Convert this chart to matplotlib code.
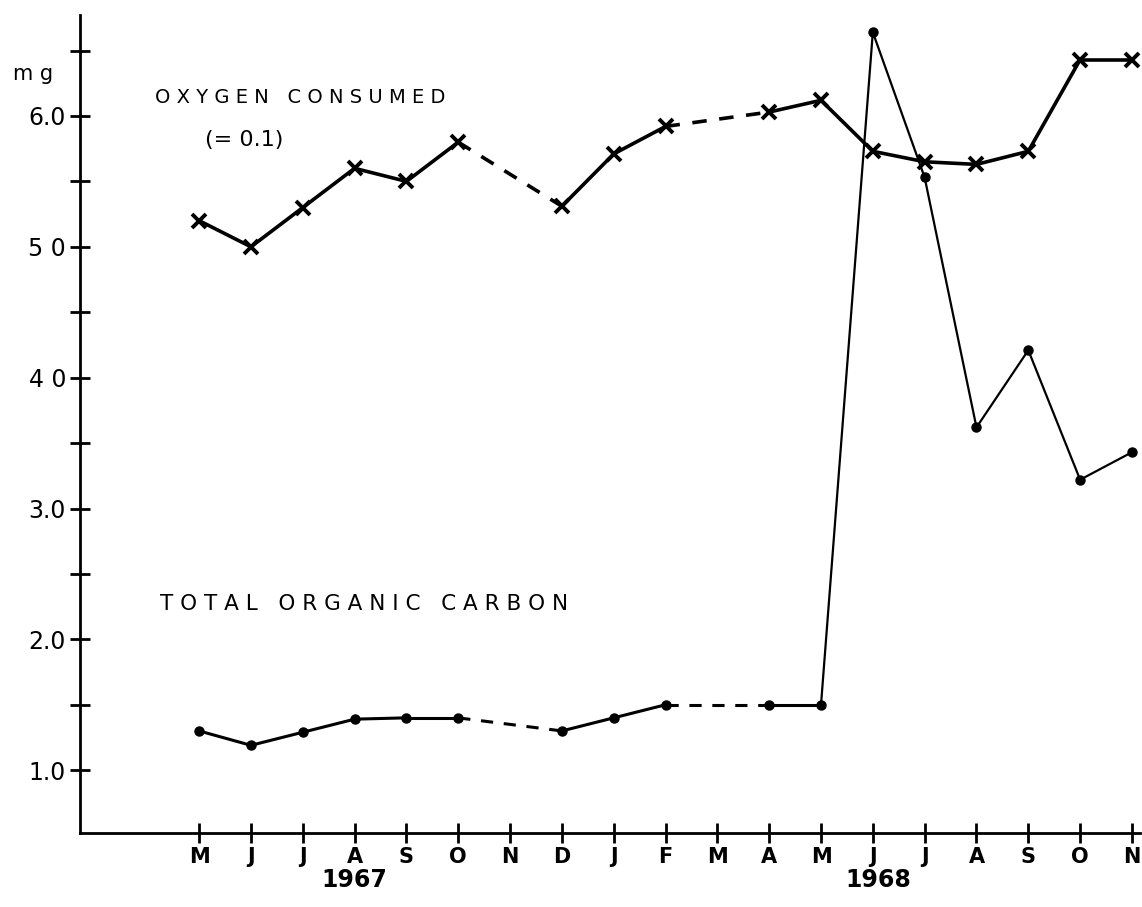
import numpy as np
import matplotlib
matplotlib.use('Agg')
import matplotlib.pyplot as plt
import matplotlib.transforms as mtransforms

months = ['M', 'J', 'J', 'A', 'S', 'O', 'N', 'D', 'J', 'F', 'M', 'A', 'M', 'J', 'J', 'A', 'S', 'O', 'N']
years = ['1967', '1968']
year_pos = [3, 13.1]

# nan = no sample that month
oxygen = [5.2, 5.0, 5.3, 5.6, 5.5, 5.8, np.nan, 5.31, 5.71, 5.92, np.nan, 6.03, 6.12,
          5.73, 5.65, 5.63, 5.73, 6.43, 6.43]
toc = [1.3, 1.19, 1.29, 1.39, 1.4, 1.4, np.nan, 1.3, 1.4, 1.5, np.nan, 1.5, 1.5,
       6.64, 5.53, 3.62, 4.21, 3.22, 3.43]

ytick_vals = [1.0, 2.0, 3.0, 4.0, 5.0, 6.0]
ytick_text = ['1.0', '2.0', '3.0', '4 0', '5 0', '6.0']

plt.rcParams['font.family'] = ['DejaVu Sans']

fig = plt.figure(figsize=(11.42, 9.07), dpi=100)
ax = fig.add_axes([0.07, 0.0816, 0.928, 0.9016])

x = np.arange(len(months))


def draw(vals, marker, ms, mew, lw, lw_late=None):
    vals = np.array(vals, dtype=float)
    ok = np.where(~np.isnan(vals))[0]
    # solid runs and dashed gaps
    for a, b in zip(ok[:-1], ok[1:]):
        w = lw
        if lw_late is not None and a >= 12:
            w = lw_late
        ls = '-' if b - a == 1 else (0, (4, 3.5))
        ax.plot([x[a], x[b]], [vals[a], vals[b]], color='black', lw=w, ls=ls,
                solid_capstyle='round')
    ax.plot(x[ok], vals[ok], ls='none', marker=marker, ms=ms, mew=mew,
            color='black', mfc='black')


draw(oxygen, 'x', 10, 2.8, 2.6)
draw(toc, 'o', 6.5, 1, 2.2, 1.6)

ax.set_xlim(-2.3, 18.15)
ax.set_ylim(0.52, 6.77)

for s in ['top', 'right']:
    ax.spines[s].set_visible(False)
for s in ['left', 'bottom']:
    ax.spines[s].set_linewidth(2)

ax.set_xticks(x)
ax.set_xticklabels(months, fontsize=15, fontweight='bold')
ax.set_yticks(ytick_vals)
ax.set_yticklabels(ytick_text, fontsize=17)
ax.set_yticks(np.arange(1.5, 6.6, 1.0), minor=True)
ax.tick_params(axis='both', which='both', direction='inout', length=14, width=2)
ax.tick_params(axis='x', pad=3)
ax.tick_params(axis='y', pad=3)

trans = mtransforms.blended_transform_factory(ax.transData, ax.transAxes)
for yr, p in zip(years, year_pos):
    ax.text(p, -0.058, yr, transform=trans, ha='center', va='center',
            fontsize=17, fontweight='bold')

ax.text(-3.59, 6.32, 'm g', fontsize=15, ha='left', va='center', clip_on=False)
ax.text(-0.85, 6.145, 'O X Y G E N   C O N S U M E D', fontsize=14,
        ha='left', va='center')
ax.text(0.12, 5.82, '(= 0.1)', fontsize=16, ha='left', va='center')
ax.text(-0.75, 2.27, 'T O T A L   O R G A N I C   C A R B O N', fontsize=15.5,
        ha='left', va='center')

fig.savefig('out.png', dpi=100)
